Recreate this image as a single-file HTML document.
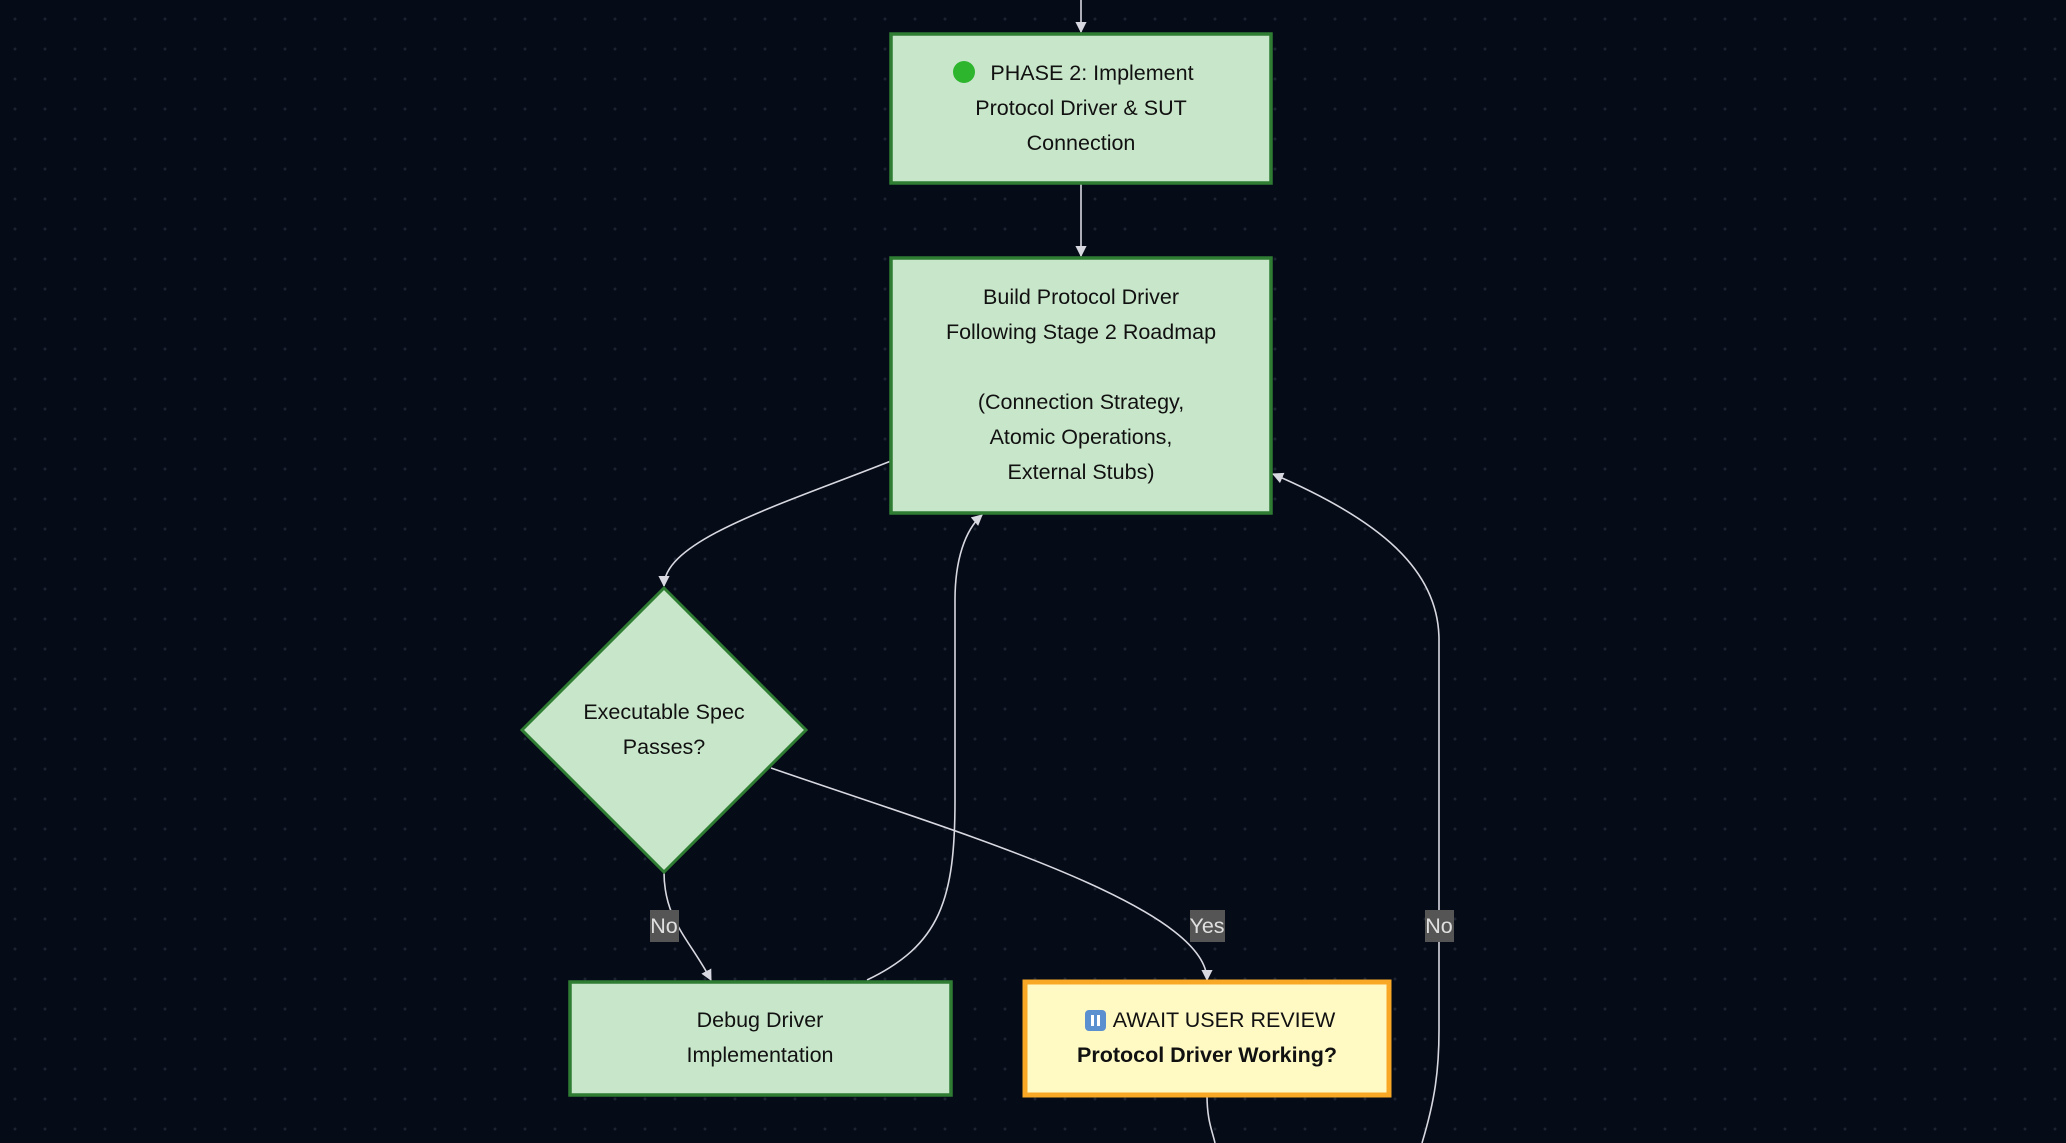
<!DOCTYPE html>
<html><head><meta charset="utf-8"><style>
html,body{margin:0;padding:0;width:2066px;height:1143px;overflow:hidden;background:#050b17;}
.bg{position:absolute;left:0;top:0;width:2066px;height:1143px;background-color:#050b17;background-image:radial-gradient(circle,#1c2432 1.3px,transparent 1.6px);background-size:30px 30px;background-position:0 4px;}
svg{position:absolute;left:0;top:0;}
text{font-family:"Liberation Sans","DejaVu Sans",sans-serif;font-size:21.5px;fill:#111;}
</style></head><body>
<div class="bg"></div>
<svg width="2066" height="1143" viewBox="0 0 2066 1143">
<defs><marker id="a" viewBox="0 0 10 10" refX="9" refY="5" markerWidth="7" markerHeight="7" orient="auto"><path d="M0,0L10,5L0,10z" fill="#d8d8e0"/></marker></defs>
<g fill="none" stroke="#d8d8e0" stroke-width="1.6">
<path d="M1081,0V32" marker-end="url(#a)"/>
<path d="M1081,183V256" marker-end="url(#a)"/>
<path d="M891,461C780,505 664,540 664,586" marker-end="url(#a)"/>
<path d="M867,980C940,945 955,900 955,800V600C955,560 965,530 982,515" marker-end="url(#a)"/>
<path d="M771,768C950,830 1207,905 1207,980" marker-end="url(#a)"/>
<path d="M664,872C664,920 690,940 711,980" marker-end="url(#a)"/>
<path d="M1207,1095C1207,1120 1212,1130 1215,1143"/>
<path d="M1422,1143C1435,1100 1439,1070 1439,1030V640C1439,570 1380,520 1273,474" marker-end="url(#a)"/>
</g>
<rect x="891" y="34" width="380" height="149" fill="#c8e6c9" stroke="#2e7d32" stroke-width="3.5"/>
<circle cx="964" cy="72" r="11" fill="#2db52d"/>
<text x="1081" y="80" text-anchor="middle"><tspan x="1092">PHASE 2: Implement</tspan><tspan x="1081" dy="35">Protocol Driver &amp; SUT</tspan><tspan x="1081" dy="35">Connection</tspan></text>
<rect x="891" y="258" width="380" height="255" fill="#c8e6c9" stroke="#2e7d32" stroke-width="3.5"/>
<text x="1081" y="304" text-anchor="middle"><tspan x="1081">Build Protocol Driver</tspan><tspan x="1081" dy="35">Following Stage 2 Roadmap</tspan><tspan x="1081" dy="70">(Connection Strategy,</tspan><tspan x="1081" dy="35">Atomic Operations,</tspan><tspan x="1081" dy="35">External Stubs)</tspan></text>
<polygon points="664,588 806,730 664,872 522,730" fill="#c8e6c9" stroke="#2e7d32" stroke-width="3"/>
<text x="664" y="719" text-anchor="middle"><tspan x="664">Executable Spec</tspan><tspan x="664" dy="35">Passes?</tspan></text>
<rect x="570" y="982" width="381" height="113" fill="#c8e6c9" stroke="#2e7d32" stroke-width="3.5"/>
<text x="760" y="1027" text-anchor="middle"><tspan x="760">Debug Driver</tspan><tspan x="760" dy="35">Implementation</tspan></text>
<rect x="1025" y="982" width="364" height="113" fill="#fff9c4" stroke="#f9a825" stroke-width="5"/>
<rect x="1085" y="1010" width="21" height="21" rx="4" fill="#5a8fd0"/>
<rect x="1091" y="1015" width="3" height="11" fill="#fff"/><rect x="1097" y="1015" width="3" height="11" fill="#fff"/>
<text x="1224" y="1027" text-anchor="middle">AWAIT USER REVIEW</text>
<text x="1207" y="1062" text-anchor="middle" font-weight="bold">Protocol Driver Working?</text>
<g>
<rect x="650" y="910" width="29" height="32" fill="#555"/>
<text x="664" y="933" text-anchor="middle" style="fill:#e0e0e0">No</text>
<rect x="1190" y="910" width="35" height="32" fill="#555"/>
<text x="1207" y="933" text-anchor="middle" style="fill:#e0e0e0">Yes</text>
<rect x="1425" y="910" width="29" height="32" fill="#555"/>
<text x="1439" y="933" text-anchor="middle" style="fill:#e0e0e0">No</text>
</g>
</svg>
</body></html>
